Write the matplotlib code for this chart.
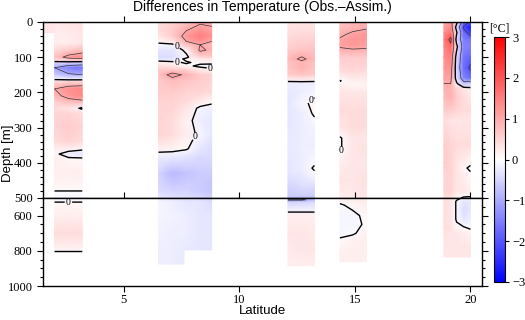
import matplotlib
matplotlib.use("Agg")
import matplotlib.pyplot as plt
import numpy as np
from matplotlib.ticker import MultipleLocator, FixedLocator

plt.rcParams["font.family"] = "Liberation Sans"
SERIF = "Liberation Serif"

# ---- data: temperature difference (obs - assim) [degC]

# thin surface stub west of section A
stub_lat = [1.55, 2.0]
stub_depth = [0, 30]
stub_temp = [[0.3, 0.3],
             [0.3, 0.3]]

# section A, ~2-3.2N
a_lat = [2.0, 2.6, 3.2]
a_depth = [0, 30, 60, 85, 100, 108, 118, 130, 150, 162, 170, 190, 210, 225, 245,
           260, 300, 340, 360, 375, 390, 430, 470, 485, 500, 520, 530, 600, 700, 780, 810]
a_temp = [[0.3, 0.3, 0.35], [0.2, 0.25, 0.3], [0.2, 0.2, 0.3], [0.5, 0.7, 0.9],
          [0.7, 1.2, 1.4], [0.4, 0.6, 0.6], [-0.5, -0.6, -0.7], [-1.0, -1.5, -1.6],
          [-0.6, -0.9, -1.0], [-0.1, -0.2, -0.2], [0.4, 0.5, 0.5], [1.0, 1.3, 1.4],
          [0.8, 1.2, 1.4], [0.6, 0.8, 0.9], [0.4, 0.3, -0.1], [0.5, 0.5, 0.4],
          [0.5, 0.6, 0.5], [0.4, 0.5, 0.4], [0.2, 0.2, 0.1], [0.1, -0.2, -0.3],
          [0.2, 0.1, 0.1], [0.2, 0.2, 0.2], [0.1, 0.1, 0.1], [-0.05, -0.05, -0.05],
          [-0.1, -0.1, -0.1], [-0.05, -0.05, -0.05], [0.1, 0.1, 0.1], [0.2, 0.2, 0.2],
          [0.4, 0.4, 0.4], [0.2, 0.2, 0.2], [-0.05, -0.05, -0.05]]

# section B, ~6.5-8.8N
b_lat = [6.5, 7.1, 7.7, 8.3, 8.8]
b_depth = [0, 25, 40, 55, 65, 80, 100, 105, 115, 125, 135, 150, 165, 200, 230, 245,
           280, 320, 360, 380, 430, 480, 520, 600, 700, 795]
b_temp = [[0.4, 0.5, 0.7, 0.9, 0.9], [0.4, 0.6, 1.0, 1.3, 1.1], [0.3, 0.6, 1.2, 1.5, 1.3],
          [0.1, 0.3, 1.0, 1.3, 1.0], [-0.1, -0.1, 0.7, 1.0, 0.8], [-0.3, -0.3, 0.1, 1.1, 0.9],
          [-0.4, -0.4, -0.1, 0.5, 0.6], [-0.3, -0.3, 0.1, 0.3, 0.3], [0.2, 0.1, -0.05, 0.1, 0.15],
          [0.4, 0.3, 0.1, -0.1, -0.2], [0.6, 0.6, 0.5, 0.2, 0.1], [0.7, 1.2, 0.9, 0.6, 0.5],
          [0.6, 0.8, 0.7, 0.6, 0.5], [0.6, 0.6, 0.5, 0.5, 0.4], [0.5, 0.5, 0.4, 0.2, 0.05],
          [0.5, 0.5, 0.3, -0.1, -0.2], [0.5, 0.4, 0.15, -0.2, -0.3], [0.5, 0.4, 0.2, -0.1, -0.3],
          [0.2, 0.15, 0.05, -0.3, -0.4], [-0.2, -0.2, -0.3, -0.4, -0.4], [-0.5, -0.8, -0.7, -0.6, -0.6],
          [-0.4, -0.5, -0.5, -0.6, -0.7], [-0.1, -0.2, -0.3, -0.3, -0.4], [-0.1, -0.15, -0.2, -0.3, -0.3],
          [-0.15, -0.2, -0.2, -0.3, -0.3], [-0.2, -0.2, -0.25, -0.3, -0.3]]

# deeper western half of section B
b2_lat = [6.5, 7.1, 7.6]
b2_depth = [795, 875]
b2_temp = [[-0.2, -0.2, -0.25],
           [-0.2, -0.2, -0.25]]

# section C, ~12.1-13.25N
c_lat = [12.1, 12.7, 13.25]
c_depth = [0, 40, 80, 105, 115, 130, 150, 160, 175, 200, 230, 260, 290, 350, 400, 415,
           430, 470, 495, 510, 525, 560, 600, 700, 800, 885]
c_temp = [[0.3, 0.3, 0.3], [0.4, 0.45, 0.45], [0.6, 0.7, 0.7], [0.8, 1.1, 0.8],
          [0.7, 0.9, 0.7], [0.7, 0.9, 0.7], [0.6, 0.7, 0.6], [0.3, 0.35, 0.3],
          [-0.2, -0.2, -0.2], [-0.3, -0.2, -0.1], [-0.3, -0.1, 0.1], [-0.3, -0.2, 0.05],
          [-0.3, -0.2, -0.1], [-0.25, -0.2, -0.2], [-0.3, -0.2, -0.05], [-0.3, -0.2, 0.05],
          [-0.3, -0.25, -0.05], [-0.5, -0.4, -0.4], [-0.6, -0.6, -0.6], [-1.1, -1.1, -0.8],
          [-0.5, -0.5, -0.4], [-0.2, -0.2, -0.2], [0.2, 0.2, 0.2], [0.3, 0.3, 0.25],
          [0.25, 0.3, 0.3], [0.2, 0.2, 0.2]]

# section D, ~14.35-15.5N
d_lat = [14.35, 14.9, 15.5]
d_depth = [0, 20, 35, 50, 65, 80, 100, 140, 167, 180, 200, 250, 300, 330, 360, 400,
           450, 500, 540, 600, 650, 700, 740, 800, 862]
d_temp = [[0.7, 0.8, 0.9], [0.8, 0.9, 1.0], [0.9, 1.1, 1.2], [1.05, 1.2, 1.2],
          [1.1, 1.2, 1.1], [0.9, 0.95, 0.95], [0.6, 0.6, 0.6], [0.4, 0.45, 0.4],
          [-0.02, 0.2, 0.2], [0.2, 0.1, 0.15], [0.3, 0.3, 0.3], [0.4, 0.4, 0.4],
          [0.3, 0.4, 0.4], [-0.05, 0.3, 0.3], [-0.05, 0.3, 0.35], [0.2, 0.3, 0.3],
          [0.3, 0.3, 0.35], [0.2, 0.25, 0.3], [-0.05, 0.1, 0.2], [-0.1, -0.1, 0.1],
          [-0.1, -0.1, 0.05], [-0.1, -0.05, 0.15], [0.05, 0.15, 0.2], [0.15, 0.2, 0.2],
          [0.2, 0.2, 0.2]]

# section E, ~18.85-20N
e_lat = [18.85, 19.15, 19.4, 19.7, 20.0]
e_depth = [0, 15, 30, 50, 70, 100, 130, 160, 175, 190, 215, 250, 280, 350, 400, 415,
           430, 480, 500, 520, 560, 620, 670, 700, 780, 835]
e_temp = [[1.0, 1.2, 0.2, -1.6, -2.1], [1.1, 1.4, -0.3, -2.1, -2.7], [1.3, 1.6, 0.1, -1.7, -2.3],
          [1.5, 2.2, -0.3, -1.5, -1.6], [1.4, 1.8, 0.2, -1.4, -1.5], [1.3, 1.5, -0.3, -1.6, -1.8],
          [1.2, 1.3, -0.4, -1.7, -2.1], [1.1, 1.1, -0.3, -1.4, -1.7], [1.0, 1.0, 0.1, -0.7, -0.6],
          [0.9, 0.9, 0.5, 0.3, 0.2], [0.8, 0.9, 0.6, 0.4, 0.3], [0.6, 0.6, 0.5, 0.4, 0.4],
          [0.4, 0.3, 0.3, 0.3, 0.3], [0.6, 0.5, 0.4, 0.4, 0.4], [0.6, 0.5, 0.3, 0.2, 0.1],
          [0.6, 0.5, 0.3, 0.1, -0.1], [0.5, 0.5, 0.3, 0.2, 0.05], [0.5, 0.5, 0.3, 0.3, 0.2],
          [0.4, 0.35, 0.1, -0.05, -0.05], [0.4, 0.3, -0.05, -0.3, -0.3], [0.4, 0.3, -0.05, -0.4, -0.3],
          [0.4, 0.3, -0.05, -0.3, -0.2], [0.4, 0.35, 0.1, 0.05, -0.05], [0.35, 0.3, 0.3, 0.2, 0.15],
          [0.3, 0.3, 0.3, 0.3, 0.3], [0.3, 0.3, 0.3, 0.3, 0.3]]

sections = [
    ("stub", stub_lat, stub_depth, stub_temp),
    ("a", a_lat, a_depth, a_temp),
    ("b", b_lat, b_depth, b_temp),
    ("b2", b2_lat, b2_depth, b2_temp),
    ("c", c_lat, c_depth, c_temp),
    ("d", d_lat, d_depth, d_temp),
    ("e", e_lat, e_depth, e_temp),
]

# where the "0" labels sit on the zero contours (lat, depth)
zero_label_spots = {
    "a": [(2.6, 522)],
    "b": [(7.35, 62), (7.3, 118), (8.75, 128), (7.85, 318)],
    "c": [(12.95, 212)],
    "d": [(14.42, 365)],
}

cmap = plt.get_cmap("bwr")
vmin, vmax = -3, 3


def draw_section(ax, name, lat, depth, temp):
    X, Y = np.meshgrid(lat, depth)
    C = np.array(temp, dtype=float)
    ax.pcolormesh(X, Y, C, shading="gouraud", cmap=cmap, vmin=vmin, vmax=vmax)
    thin = [lv for lv in (-2, -1, 1, 2) if C.min() < lv < C.max()]
    if thin:
        ax.contour(X, Y, C, levels=thin, colors="#333333", linewidths=0.5,
                   linestyles="solid")
    if C.min() < 0 < C.max():
        cs = ax.contour(X, Y, C, levels=[0], colors="k", linewidths=1.0,
                        linestyles="solid")
        lo, hi = sorted(ax.get_ylim())
        spots = [p for p in zero_label_spots.get(name, []) if lo < p[1] < hi]
        if spots:
            txts = ax.clabel(cs, fmt={0: "0"}, fontsize=7, inline=True,
                             inline_spacing=1, manual=spots)
            for t in txts:
                t.set_family(SERIF)
                t.set_rotation(0)


fig = plt.figure(figsize=(5.25, 3.2), dpi=100)
ax_top = fig.add_axes([43 / 525, 1 - 198 / 320, 439 / 525, 176 / 320])
ax_bot = fig.add_axes([43 / 525, 1 - 286 / 320, 439 / 525, 88 / 320])
cax = fig.add_axes([494 / 525, 1 - 282 / 320, 11 / 525, 245 / 320])

ax_top.set_ylim(500, 0)
ax_bot.set_ylim(1000, 500)

for ax in (ax_top, ax_bot):
    ax.set_xlim(1.5, 20.5)
    for name, lat, depth, temp in sections:
        draw_section(ax, name, lat, depth, temp)
    ax.xaxis.set_major_locator(FixedLocator([5, 10, 15, 20]))
    for sp in ax.spines.values():
        sp.set_linewidth(1.0)
    ax.tick_params(which="both", direction="out", top=True, right=True,
                   labelsize=9, labelfontfamily=SERIF, width=0.8)
    ax.tick_params(which="major", length=4)
    ax.tick_params(which="minor", length=2)

ax_top.yaxis.set_major_locator(MultipleLocator(100))
ax_top.yaxis.set_minor_locator(MultipleLocator(20))
ax_top.tick_params(labelbottom=False)

ax_bot.yaxis.set_major_locator(FixedLocator([600, 800, 1000]))
ax_bot.yaxis.set_minor_locator(MultipleLocator(50))
ax_bot.tick_params(axis="x", pad=2)

fig.text(262 / 525, 1 - 7 / 320, "Differences in Temperature (Obs.\u2013Assim.)",
         ha="center", va="center", fontsize=10)
fig.text(262 / 525, 1 - 311 / 320, "Latitude", ha="center", va="center", fontsize=9.5)
fig.text(8 / 525, 1 - 153 / 320, "Depth [m]", ha="center", va="center",
         rotation=90, fontsize=9.5)

# colour bar
sm = plt.cm.ScalarMappable(cmap=cmap, norm=plt.Normalize(vmin, vmax))
cb = fig.colorbar(sm, cax=cax, ticks=[-3, -2, -1, 0, 1, 2, 3])
cb.outline.set_linewidth(0.8)
cax.tick_params(labelsize=9, labelfontfamily=SERIF, length=3, width=0.8, pad=2)
cax.text(0.5, 1.01, "[\u00b0C]", transform=cax.transAxes, ha="center", va="bottom",
         fontsize=8.5, family=SERIF)

fig.savefig("out.png", dpi=100)
